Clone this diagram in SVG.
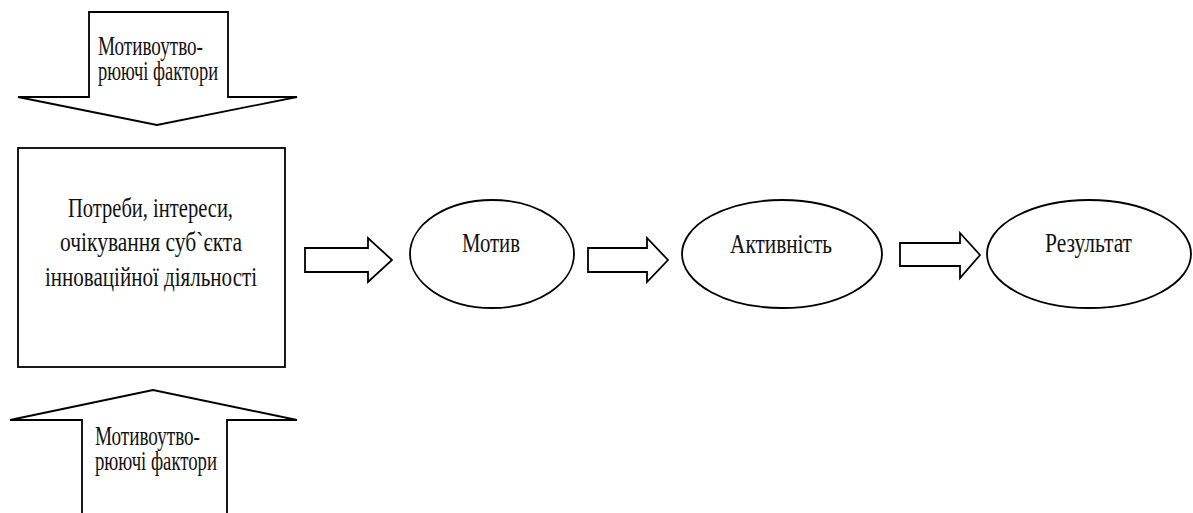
<svg xmlns="http://www.w3.org/2000/svg" width="1193" height="513" viewBox="0 0 1193 513">
<style>
.s{fill:#fff;stroke:#000;stroke-width:1.8;stroke-linejoin:miter}
.t{font-family:"Liberation Serif","Times New Roman",serif;font-size:27px;fill:#111}
</style>
<rect width="1193" height="513" fill="#fff"/>
<g id="factors-top">
<polygon class="s" points="89,12 228,12 228,97 297,97 157,125 18,97 89,97"/>
<text class="t" x="98" y="55" textLength="105" lengthAdjust="spacingAndGlyphs">Мотивоутво-</text>
<text class="t" x="98" y="80" textLength="120" lengthAdjust="spacingAndGlyphs">рюючі фактори</text>
</g>
<g id="needs">
<rect class="s" x="18" y="148" width="267" height="219"/>
<text class="t" x="68" y="217" textLength="165" lengthAdjust="spacingAndGlyphs">Потреби, інтереси,</text>
<text class="t" x="60" y="251" textLength="182" lengthAdjust="spacingAndGlyphs">очікування суб`єкта</text>
<text class="t" x="45" y="286" textLength="212" lengthAdjust="spacingAndGlyphs">інноваційної діяльності</text>
</g>
<g id="factors-bottom">
<polygon class="s" points="82,516 82,420 10,420 153,390 297,420 227,420 227,516"/>
<text class="t" x="95" y="445" textLength="105" lengthAdjust="spacingAndGlyphs">Мотивоутво-</text>
<text class="t" x="95" y="470" textLength="122" lengthAdjust="spacingAndGlyphs">рюючі фактори</text>
</g>
<g id="motive">
<ellipse class="s" cx="492" cy="254" rx="82" ry="54"/>
<text class="t" x="462" y="252" textLength="58" lengthAdjust="spacingAndGlyphs">Мотив</text>
</g>
<g id="activity">
<ellipse class="s" cx="782" cy="254" rx="100" ry="54"/>
<text class="t" x="730" y="253" textLength="102" lengthAdjust="spacingAndGlyphs">Активність</text>
</g>
<g id="result">
<ellipse class="s" cx="1089" cy="254" rx="102" ry="54"/>
<text class="t" x="1045" y="252" textLength="87" lengthAdjust="spacingAndGlyphs">Результат</text>
</g>
<g id="connectors">
<polygon class="s" points="305,248 368,248 368,238 392,260 368,282 368,272 305,272"/>
<polygon class="s" points="588,248 647,248 647,238 668,260 647,282 647,272 588,272"/>
<polygon class="s" points="900,243 960,243 960,233 980,255 960,278 960,266 900,266"/>
</g>
</svg>
